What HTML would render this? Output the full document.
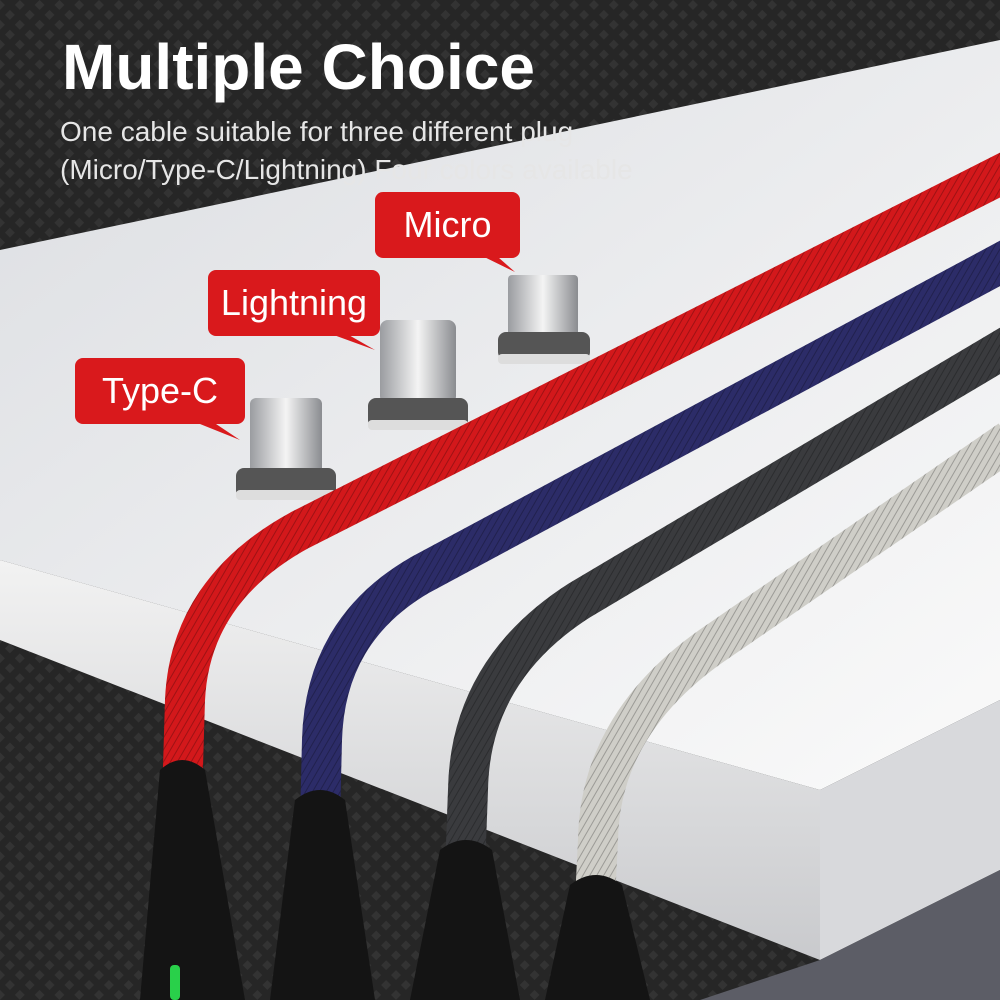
<!DOCTYPE html>
<html><head><meta charset="utf-8"><style>
html,body{margin:0;padding:0;background:#222;}
#w{position:relative;width:1000px;height:1000px;overflow:hidden;font-family:"Liberation Sans",sans-serif;}
svg{position:absolute;left:0;top:0}
.t{position:absolute;color:#fff;}
.lab{position:absolute;background:#d9191c;color:#fff;border-radius:8px;font-size:36px;display:flex;align-items:center;justify-content:center;}
</style></head><body><div id="w">
<svg width="1000" height="1000" viewBox="0 0 1000 1000">
<defs>
<pattern id="bg" width="14" height="14" patternUnits="userSpaceOnUse" patternTransform="rotate(45)">
<rect width="14" height="14" fill="#262626"/><rect width="7" height="7" fill="#333"/></pattern>
<linearGradient id="top" x1="0" y1="0" x2="1" y2="1"><stop offset="0" stop-color="#dcdee2"/><stop offset="1" stop-color="#fafafa"/></linearGradient>
<linearGradient id="front" x1="0" y1="0" x2="0" y2="1"><stop offset="0" stop-color="#f2f2f2"/><stop offset="1" stop-color="#c9cacd"/></linearGradient>
<pattern id="br" width="6" height="6" patternUnits="userSpaceOnUse" patternTransform="rotate(30)"><rect width="6" height="6" fill="none"/><line x1="0" y1="0" x2="0" y2="6" stroke="#000" stroke-opacity=".25" stroke-width="2"/></pattern>
<linearGradient id="pl" x1="0" y1="0" x2="1" y2="0"><stop offset="0" stop-color="#9a9ca0"/><stop offset=".5" stop-color="#f4f4f4"/><stop offset="1" stop-color="#8a8c90"/></linearGradient>
</defs>
<rect width="1000" height="1000" fill="url(#bg)"/>
<polygon points="0,250 1000,40 1000,700 820,790 0,560" fill="url(#top)"/>
<polygon points="0,560 820,790 820,960 0,640" fill="url(#front)"/>
<polygon points="820,790 1000,700 1000,870 820,960" fill="#d8d9dc"/>
<polygon points="820,960 1000,870 1000,1000 700,1000" fill="#5c5d66"/>
<g>
<rect x="250" y="398" width="72" height="78" rx="6" fill="url(#pl)"/>
<rect x="236" y="468" width="100" height="30" rx="8" fill="#555"/><rect x="236" y="490" width="100" height="10" rx="4" fill="#ddd"/>
<rect x="380" y="320" width="76" height="84" rx="8" fill="url(#pl)"/>
<rect x="368" y="398" width="100" height="30" rx="8" fill="#555"/><rect x="368" y="420" width="100" height="10" rx="4" fill="#ddd"/>
<rect x="508" y="275" width="70" height="62" rx="4" fill="url(#pl)"/>
<rect x="498" y="332" width="92" height="28" rx="8" fill="#555"/><rect x="498" y="354" width="92" height="10" rx="4" fill="#ddd"/>
</g>
<g fill="none" stroke-linecap="butt">
<path d="M1010,170 L300,530 Q190,590 185,700 L182,800" stroke="#d3181b" stroke-width="40"/>
<path d="M1010,170 L300,530 Q190,590 185,700 L182,800" stroke="url(#br)" stroke-width="40"/>
<path d="M1010,258 L420,575 Q325,630 322,740 L320,820" stroke="#2c2c68" stroke-width="40"/>
<path d="M1010,258 L420,575 Q325,630 322,740 L320,820" stroke="url(#br)" stroke-width="40"/>
<path d="M1010,345 L580,600 Q470,670 468,790 L465,870" stroke="#3a3b3e" stroke-width="40"/>
<path d="M1010,345 L580,600 Q470,670 468,790 L465,870" stroke="url(#br)" stroke-width="40"/>
<path d="M1010,440 L720,640 Q600,720 598,840 L595,900" stroke="#cfcec8" stroke-width="40"/>
<path d="M1010,440 L720,640 Q600,720 598,840 L595,900" stroke="url(#br)" stroke-width="40"/>
</g>
<g fill="#141414">
<path d="M160,770 Q182,750 205,770 L245,1000 L140,1000 Z"/>
<path d="M295,800 Q320,780 345,800 L375,1000 L270,1000 Z"/>
<path d="M440,850 Q466,830 492,850 L520,1000 L410,1000 Z"/>
<path d="M570,885 Q596,865 622,885 L650,1000 L545,1000 Z"/>
</g>
<rect x="170" y="965" width="10" height="35" rx="4" fill="#29d04a"/>
<polygon points="490,250 515,272 470,250" fill="#d9191c"/>
<polygon points="340,330 375,350 320,330" fill="#d9191c"/>
<polygon points="210,420 240,440 190,420" fill="#d9191c"/>
</svg>
<div class="t" style="left:62px;top:30px;font-size:64px;font-weight:bold;">Multiple Choice</div>
<div class="t" style="left:60px;top:113px;font-size:28px;color:#e6e6e6;line-height:38px;">One cable suitable for three different plug<br>(Micro/Type-C/Lightning) Four colors available</div>
<div class="lab" style="left:375px;top:192px;width:145px;height:66px;">Micro</div>
<div class="lab" style="left:208px;top:270px;width:172px;height:66px;">Lightning</div>
<div class="lab" style="left:75px;top:358px;width:170px;height:66px;">Type-C</div>
</div></body></html>
